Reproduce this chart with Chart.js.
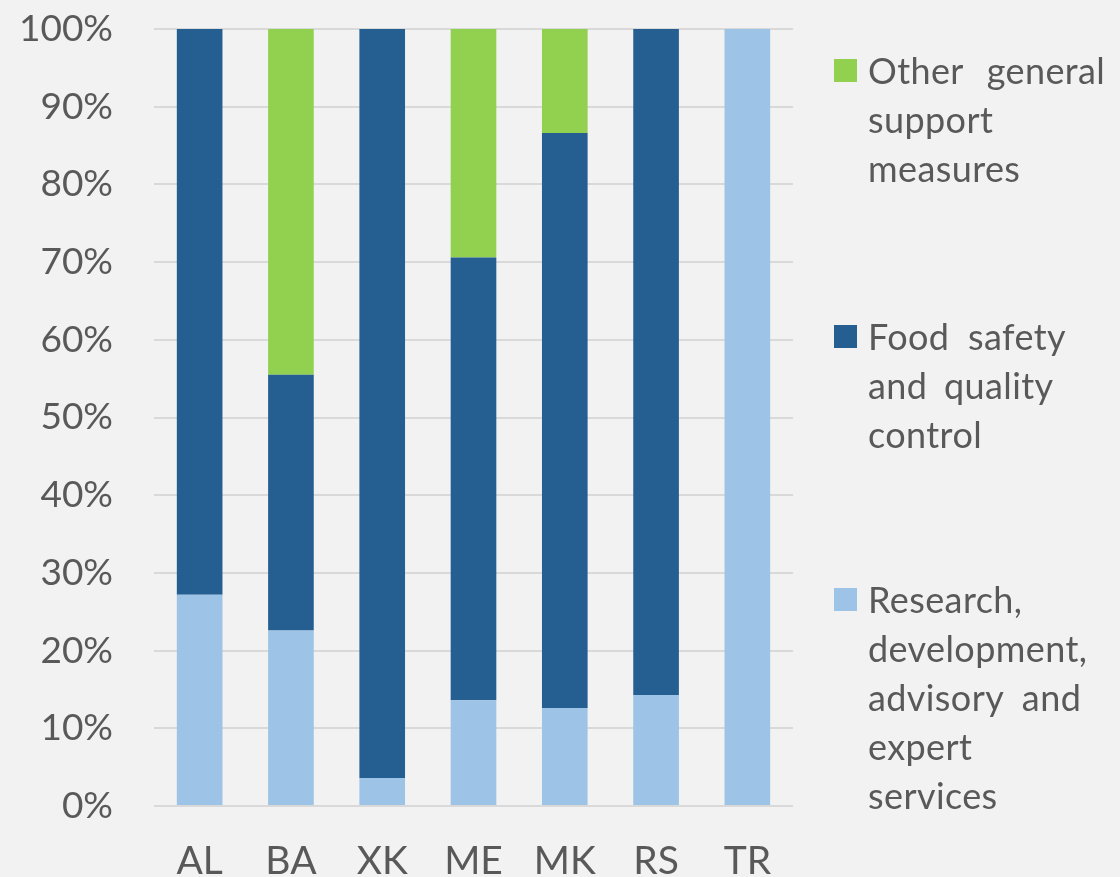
<!DOCTYPE html>
<html>
<head>
<meta charset="utf-8">
<script src="https://cdn.jsdelivr.net/npm/chart.js@4/dist/chart.umd.min.js"></script>
<style>
  html, body { margin: 0; padding: 0; background: #f2f2f2; }
  #wrap { position: relative; width: 1120px; height: 877px; }
  #legend { position: absolute; left: 834px; top: 0; width: 286px; font-family: Lato, sans-serif; font-size: 36px; color: #595959; }
  .item { position: absolute; left: 0; }
  .box { position: absolute; left: 0; top: 13px; width: 23px; height: 23px; }
  .txt { position: absolute; left: 34px; line-height: 49px; white-space: nowrap; letter-spacing: 0.4px; }
  .txt span { display: block; }
</style>
</head>
<body>
<div id="wrap">
  <canvas id="chart" width="1120" height="877"></canvas>
  <div id="legend"></div>
</div>
<script>
const countries = ['AL', 'BA', 'XK', 'ME', 'MK', 'RS', 'TR'];
const research = [27.2, 22.6, 3.6, 13.6, 12.6, 14.3, 100];
const foodSafety = [72.8, 32.9, 96.4, 57.0, 74.0, 85.7, 0];
const otherSupport = [0, 44.5, 0, 29.4, 13.4, 0, 0];
const yTicks = [0, 10, 20, 30, 40, 50, 60, 70, 80, 90, 100];

// legend lines for each series, with the extra word gap of each line
const series = [
    { label: 'Research, development, advisory and expert services', lines: [['Research,', 0], ['development,', 0], ['advisory and', 9], ['expert', 0], ['services', 0]], data: research, color: '#9dc3e6', top: 575 },
    { label: 'Food safety and quality control', lines: [['Food safety', 9], ['and quality', 7], ['control', 0]], data: foodSafety, color: '#255e91', top: 312 },
    { label: 'Other general support measures', lines: [['Other general', 14], ['support', 0], ['measures', 0]], data: otherSupport, color: '#92d050', top: 46 }
];

const font = { family: 'Lato, sans-serif', size: 37 };

new Chart(document.getElementById('chart'), {
    type: 'bar',
    data: {
        labels: countries,
        datasets: series.map(s => ({
            label: s.label,
            data: s.data,
            backgroundColor: s.color,
            borderWidth: 0,
            barPercentage: 0.5,
            categoryPercentage: 1.0
        }))
    },
    options: {
        responsive: false,
        animation: false,
        layout: { padding: { top: 29, right: 327, left: 0, bottom: 0 } },
        plugins: { legend: { display: false }, tooltip: { enabled: false } },
        scales: {
            x: {
                stacked: true,
                grid: { display: false },
                border: { display: false },
                ticks: { color: '#595959', font: { family: font.family, size: 39 }, padding: 24 },
                afterFit: (scale) => { scale.height = 71; }
            },
            y: {
                stacked: true,
                min: 0,
                max: 100,
                afterBuildTicks: (scale) => { scale.ticks = yTicks.map(v => ({ value: v })); },
                grid: { color: '#d9d9d9', lineWidth: 2, drawTicks: false },
                border: { display: false },
                ticks: { color: '#595959', font: font, padding: 41, callback: v => v + '%' },
                afterFit: (scale) => { scale.width = 154; scale.paddingTop = 0; scale.paddingBottom = 0; }
            }
        }
    }
});

// legend on the right, one block per series with hand-wrapped lines
const legend = document.getElementById('legend');
series.forEach(s => {
    const item = document.createElement('div');
    item.className = 'item';
    item.style.top = s.top + 'px';
    const lines = s.lines.map(([text, gap]) =>
        '<span style="word-spacing:' + gap + 'px">' + text + '</span>').join('');
    item.innerHTML = '<div class="box" style="background:' + s.color + '"></div>' +
        '<div class="txt">' + lines + '</div>';
    legend.appendChild(item);
});
</script>
</body>
</html>
